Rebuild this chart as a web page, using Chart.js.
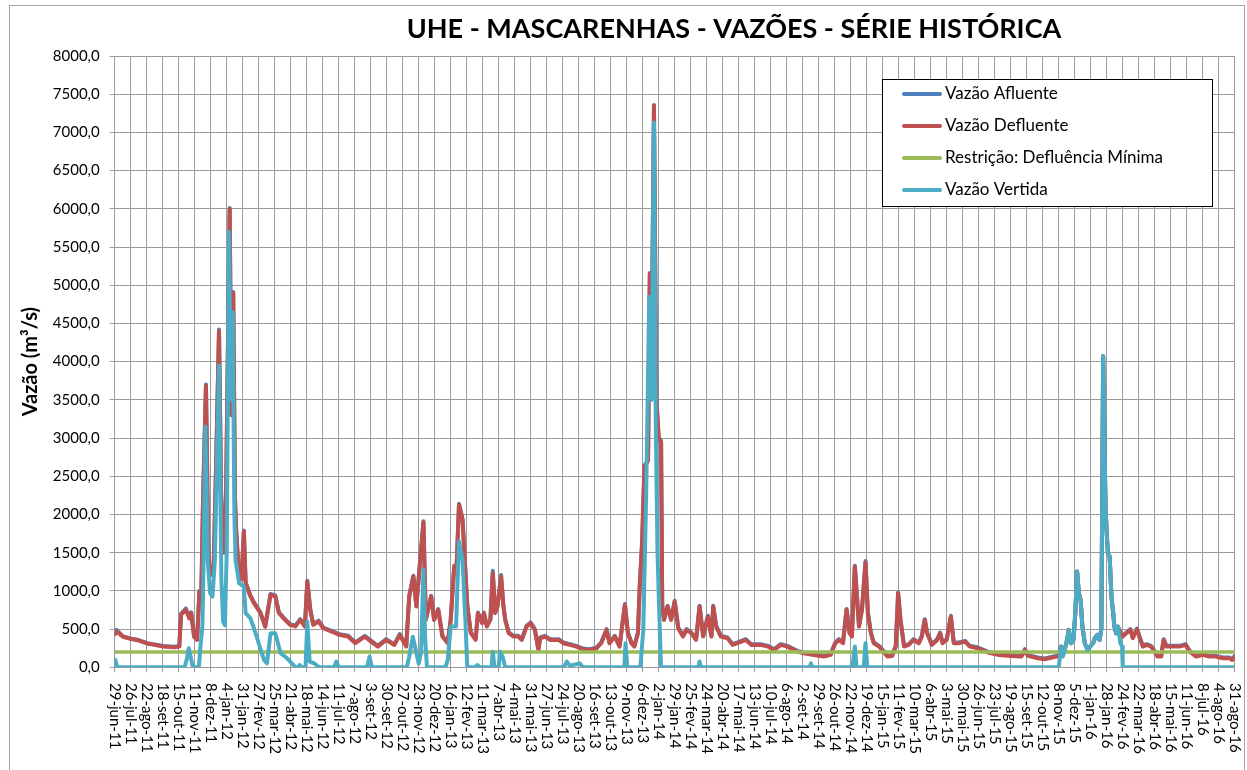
<!DOCTYPE html>
<html>
<head>
<meta charset="utf-8">
<script src="https://cdn.jsdelivr.net/npm/chart.js@4.4.0/dist/chart.umd.min.js"></script>
<style>
  html, body { margin: 0; background: #fff; }
</style>
</head>
<body>
<canvas id="chart" width="1247" height="770"></canvas>
<script>
const titulo = 'UHE - MASCARENHAS - VAZÕES - SÉRIE HISTÓRICA';

// rótulos do eixo x, um a cada 27 dias a partir de 29-jun-11
const tickLabels = [
  '29-jun-11', '26-jul-11', '22-ago-11', '18-set-11', '15-out-11', '11-nov-11', '8-dez-11',
  '4-jan-12', '31-jan-12', '27-fev-12', '25-mar-12', '21-abr-12', '18-mai-12', '14-jun-12',
  '11-jul-12', '7-ago-12', '3-set-12', '30-set-12', '27-out-12', '23-nov-12', '20-dez-12',
  '16-jan-13', '12-fev-13', '11-mar-13', '7-abr-13', '4-mai-13', '31-mai-13', '27-jun-13',
  '24-jul-13', '20-ago-13', '16-set-13', '13-out-13', '9-nov-13', '6-dez-13', '2-jan-14',
  '29-jan-14', '25-fev-14', '24-mar-14', '20-abr-14', '17-mai-14', '13-jun-14', '10-jul-14',
  '6-ago-14', '2-set-14', '29-set-14', '26-out-14', '22-nov-14', '19-dez-14', '15-jan-15',
  '11-fev-15', '10-mar-15', '6-abr-15', '3-mai-15', '30-mai-15', '26-jun-15', '23-jul-15',
  '19-ago-15', '15-set-15', '12-out-15', '8-nov-15', '5-dez-15', '1-jan-16', '28-jan-16',
  '24-fev-16', '22-mar-16', '18-abr-16', '15-mai-16', '11-jun-16', '8-jul-16', '4-ago-16',
  '31-ago-16'
];
const tickStep = 27;

// dias contados a partir de 29-jun-11
const defluenteDias = [
  0, 3, 14, 28, 39, 55, 67, 82, 101, 109, 112, 120, 126, 129, 134, 139, 143, 146, 149, 154,
  158, 161, 167, 171, 176, 180, 184, 188, 194, 197, 200, 203, 205, 210, 214, 218, 221, 229, 235, 246,
  254, 263, 271, 277, 285, 296, 305, 313, 321, 325, 330, 335, 344, 352, 366, 379, 394, 406, 422, 433,
  444, 458, 472, 481, 492, 497, 504, 509, 521, 525, 534, 539, 546, 553, 562, 567, 573, 577, 581, 587,
  591, 595, 601, 609, 613, 620, 623, 628, 634, 638, 642, 646, 652, 656, 659, 665, 673, 681, 687, 695,
  702, 709, 715, 718, 726, 735, 749, 757, 768, 779, 790, 802, 813, 821, 830, 835, 844, 852, 861, 866,
  872, 877, 883, 886, 890, 894, 900, 903, 906, 910, 914, 918, 922, 924, 927, 933, 939, 945, 951, 959,
  965, 973, 981, 987, 993, 1001, 1007, 1010, 1015, 1023, 1034, 1043, 1051, 1065, 1074, 1090, 1102, 1113, 1124, 1135,
  1152, 1163, 1180, 1197, 1208, 1216, 1222, 1229, 1235, 1240, 1244, 1249, 1256, 1261, 1267, 1271, 1276, 1281, 1290, 1295,
  1304, 1312, 1318, 1322, 1326, 1332, 1340, 1348, 1357, 1362, 1367, 1371, 1379, 1388, 1393, 1397, 1404, 1411, 1416, 1424,
  1435, 1443, 1457, 1474, 1491, 1513, 1530, 1536, 1541, 1558, 1569, 1589, 1593, 1597, 1600, 1606, 1610, 1614, 1618, 1621,
  1624, 1627, 1630, 1633, 1637, 1642, 1646, 1651, 1654, 1658, 1662, 1665, 1668, 1672, 1674, 1676, 1679, 1682, 1685, 1687,
  1690, 1693, 1697, 1701, 1707, 1714, 1718, 1725, 1729, 1735, 1741, 1749, 1760, 1766, 1770, 1775, 1783, 1797, 1807, 1814,
  1825, 1836, 1847, 1858, 1870, 1881, 1886, 1890
];
const defluente = [
  430, 470, 400, 370, 355, 310, 295, 272, 262, 272, 690, 750, 640, 710, 400, 360, 990, 880, 2150, 3680,
  1500, 1200, 1320, 2600, 4400, 2000, 1500, 2300, 6000, 3300, 4900, 2200, 1780, 1150, 1150, 1780, 1100, 930, 840, 710,
  530, 950, 930, 710, 640, 555, 535, 620, 533, 1123, 750, 555, 600, 511, 468, 424, 402, 315, 402, 336,
  271, 358, 293, 424, 271, 926, 1189, 795, 1900, 620, 926, 620, 752, 402, 315, 620, 1320, 1320, 2130, 1930,
  1363, 795, 446, 358, 708, 577, 708, 533, 620, 1232, 708, 795, 1189, 795, 620, 446, 402, 402, 358, 533,
  577, 489, 227, 380, 402, 358, 358, 315, 293, 271, 236, 227, 249, 315, 489, 315, 402, 271, 817, 446,
  315, 271, 446, 1058, 1626, 2630, 2700, 5150, 4000, 7350, 3500, 3000, 2950, 800, 620, 795, 620, 861, 511, 402,
  489, 446, 358, 795, 402, 664, 402, 795, 533, 402, 380, 293, 315, 358, 293, 293, 271, 227, 293, 271,
  205, 184, 162, 140, 162, 315, 358, 315, 752, 446, 402, 1320, 533, 752, 1372, 708, 446, 315, 271, 227,
  140, 149, 271, 970, 620, 271, 293, 358, 315, 402, 620, 446, 293, 358, 446, 315, 358, 664, 315, 315,
  336, 271, 249, 192, 162, 149, 140, 227, 149, 118, 105, 140, 140, 271, 160, 315, 490, 315, 358, 708,
  1254, 970, 883, 533, 315, 227, 271, 315, 380, 424, 358, 511, 4070, 2106, 1757, 1495, 1451, 926, 708, 533,
  446, 533, 450, 402, 446, 489, 380, 498, 402, 271, 293, 271, 140, 140, 358, 271, 271, 271, 293, 205,
  140, 162, 140, 140, 118, 118, 96, 140
];
const afluente = [
  440, 490, 405, 375, 360, 315, 300, 278, 268, 278, 700, 770, 650, 720, 410, 365, 1000, 890, 2160, 3700,
  1510, 1210, 1330, 2610, 4420, 2010, 1510, 2310, 6010, 3310, 4910, 2210, 1790, 1160, 1160, 1790, 1110, 940, 850, 720,
  540, 960, 940, 720, 650, 565, 545, 630, 543, 1133, 760, 565, 610, 521, 478, 434, 412, 325, 412, 346,
  281, 368, 303, 434, 281, 936, 1199, 805, 1910, 630, 936, 630, 762, 412, 325, 630, 1330, 1330, 2140, 1940,
  1373, 805, 456, 368, 718, 587, 718, 543, 630, 1262, 718, 805, 1209, 805, 630, 456, 412, 412, 368, 543,
  587, 499, 237, 390, 412, 368, 368, 325, 303, 281, 246, 237, 259, 325, 499, 325, 412, 281, 827, 456,
  325, 281, 456, 1075, 1636, 2640, 2710, 5160, 4010, 7360, 3510, 3010, 2960, 810, 630, 805, 630, 871, 521, 412,
  499, 456, 368, 805, 412, 674, 412, 805, 543, 412, 390, 303, 325, 368, 303, 303, 281, 237, 303, 281,
  215, 194, 172, 150, 172, 325, 368, 325, 762, 456, 412, 1330, 543, 762, 1390, 718, 456, 325, 281, 237,
  150, 159, 281, 980, 630, 281, 303, 368, 325, 412, 630, 456, 303, 368, 456, 325, 368, 674, 325, 325,
  346, 281, 259, 202, 172, 159, 150, 237, 159, 128, 115, 150, 140, 271, 160, 315, 490, 315, 358, 708,
  1254, 970, 883, 533, 315, 227, 271, 315, 380, 424, 358, 511, 4070, 2106, 1757, 1495, 1451, 926, 708, 533,
  446, 533, 460, 412, 456, 499, 390, 508, 412, 281, 303, 281, 150, 150, 368, 281, 281, 281, 303, 215,
  150, 172, 150, 150, 128, 128, 106, 150
];

const vertidaDias = [
  0, 1, 3, 5, 118, 122, 125, 128, 131, 135, 142, 145, 148, 150, 153, 157, 161, 165, 169, 176,
  180, 183, 186, 189, 193, 196, 199, 202, 204, 210, 218, 221, 229, 235, 243, 252, 257, 263, 271, 280,
  291, 299, 305, 310, 312, 316, 322, 325, 329, 337, 345, 370, 374, 378, 426, 430, 434, 493, 497, 503,
  508, 513, 517, 521, 524, 527, 558, 562, 567, 576, 581, 587, 592, 595, 608, 612, 616, 636, 638, 641,
  648, 650, 655, 659, 758, 763, 768, 785, 790, 860, 862, 865, 887, 892, 897, 902, 906, 910, 913, 916,
  919, 922, 985, 987, 989, 1173, 1175, 1177, 1245, 1249, 1252, 1264, 1267, 1270, 1593, 1597, 1600, 1606, 1610, 1614,
  1618, 1621, 1624, 1627, 1630, 1633, 1637, 1642, 1646, 1651, 1654, 1658, 1662, 1665, 1668, 1672, 1674, 1676, 1679, 1682,
  1685, 1687, 1690, 1693, 1697, 1700, 1701, 1890
];
const vertida = [
  0, 100, 40, 0, 0, 120, 250, 150, 30, 0, 0, 300, 530, 1400, 3150, 1400, 970, 926, 1400, 3950,
  1145, 600, 550, 1500, 5700, 3500, 4650, 2000, 1400, 1100, 1057, 708, 640, 511, 315, 96, 52, 445, 445, 184,
  118, 52, 0, 0, 30, 0, 0, 600, 75, 50, 0, 0, 75, 0, 0, 140, 0, 0, 140, 400,
  227, 50, 200, 1276, 358, 0, 0, 96, 533, 533, 1648, 1407, 577, 0, 0, 30, 0, 0, 205, 0,
  0, 205, 130, 0, 0, 75, 20, 52, 0, 0, 315, 0, 0, 490, 2300, 4850, 3500, 7130, 3200, 1500,
  700, 0, 0, 75, 0, 0, 52, 0, 0, 271, 0, 0, 315, 0, 0, 271, 140, 315, 490, 315,
  358, 708, 1254, 970, 883, 533, 315, 227, 271, 315, 380, 424, 358, 511, 4070, 2106, 1757, 1495, 1451, 926,
  708, 533, 446, 533, 315, 271, 0, 0
];

const restricaoDias = [0, 1890];
const restricao = [200, 200];

const fonte = 'Lato, "Open Sans", sans-serif';

function pontos(dias, valores) {
  return dias.map((d, i) => ({ x: d, y: valores[i] }));
}

const moldura = {
  id: 'moldura',
  beforeDraw(chart) {
    const ctx = chart.ctx;
    ctx.save();
    ctx.fillStyle = '#fff';
    ctx.fillRect(0, 0, chart.width, chart.height);
    ctx.strokeStyle = '#a6a6a6';
    ctx.lineWidth = 1;
    ctx.strokeRect(9.5, 5.5, chart.width - 12, chart.height + 10);
    ctx.restore();
  },
  afterDraw(chart) {
    const ctx = chart.ctx;
    const xs = chart.scales.x;
    ctx.save();
    ctx.fillStyle = '#000';

    ctx.font = 'bold 27px ' + fonte;
    ctx.textAlign = 'center';
    ctx.textBaseline = 'alphabetic';
    ctx.fillText(titulo, 734, 38);

    ctx.font = '15px ' + fonte;
    ctx.textAlign = 'left';
    ctx.textBaseline = 'middle';
    tickLabels.forEach((t, i) => {
      const x = xs.getPixelForValue(i * tickStep);
      ctx.save();
      ctx.translate(x, 683);
      ctx.rotate(Math.PI / 2);
      ctx.fillText(t, 0, 0);
      ctx.restore();
    });

    // legenda
    ctx.fillStyle = '#fff';
    ctx.fillRect(882, 79, 330, 127);
    ctx.strokeStyle = '#000';
    ctx.lineWidth = 1;
    ctx.strokeRect(882.5, 79.5, 330, 127);
    ctx.font = '17px ' + fonte;
    ctx.textAlign = 'left';
    ctx.textBaseline = 'middle';
    chart.data.datasets.forEach((ds, i) => {
      const y = 94 + i * 32;
      ctx.strokeStyle = ds.borderColor;
      ctx.lineWidth = 4;
      ctx.lineCap = 'round';
      ctx.beginPath();
      ctx.moveTo(904, y);
      ctx.lineTo(940, y);
      ctx.stroke();
      ctx.fillStyle = '#000';
      ctx.fillText(ds.label, 945, y);
    });
    ctx.restore();
  }
};

const serie = (label, dias, valores, cor, ordem, largura) => ({
  label,
  data: pontos(dias, valores),
  borderColor: cor,
  backgroundColor: cor,
  borderWidth: largura,
  pointRadius: 0,
  tension: 0,
  borderJoinStyle: 'round',
  borderCapStyle: 'round',
  order: ordem,
});

new Chart(document.getElementById('chart'), {
  type: 'line',
  data: {
    datasets: [
      serie('Vazão Afluente', defluenteDias, afluente, '#4F81BD', 4, 4),
      serie('Vazão Defluente', defluenteDias, defluente, '#C0504D', 3, 4),
      serie('Restrição: Defluência Mínima', restricaoDias, restricao, '#9BBB59', 2, 3.5),
      serie('Vazão Vertida', vertidaDias, vertida, '#4BACC6', 1, 4),
    ],
  },
  options: {
    responsive: false,
    animation: false,
    devicePixelRatio: 1,
    layout: { padding: { left: 0, top: 56, right: 12.3, bottom: 0 } },
    plugins: {
      legend: { display: false },
      title: { display: false },
      tooltip: { enabled: false },
    },
    scales: {
      x: {
        type: 'linear',
        min: 0,
        max: 1890,
        afterBuildTicks: (s) => {
          s.ticks = tickLabels.map((t, i) => ({ value: i * tickStep }));
        },
        afterFit: (s) => { s.height = 102.7; },
        ticks: { display: false },
        grid: { color: '#9a9a9a', lineWidth: 1, tickLength: 5 },
        border: { color: '#9a9a9a' },
      },
      y: {
        min: 0,
        max: 8000,
        afterFit: (s) => { s.width = 114.7; },
        ticks: {
          stepSize: 500,
          padding: 10,
          color: '#000',
          font: { family: fonte, size: 15 },
          callback: (v) => v.toFixed(1).replace('.', ','),
        },
        grid: { color: '#9a9a9a', lineWidth: 1, tickLength: 5 },
        border: { color: '#9a9a9a' },
        title: {
          display: true,
          text: 'Vazão (m³/s)',
          color: '#000',
          font: { family: fonte, size: 20, weight: 'bold' },
          padding: { top: 19, bottom: 0 },
        },
      },
    },
  },
  plugins: [moldura],
});
</script>
</body>
</html>
